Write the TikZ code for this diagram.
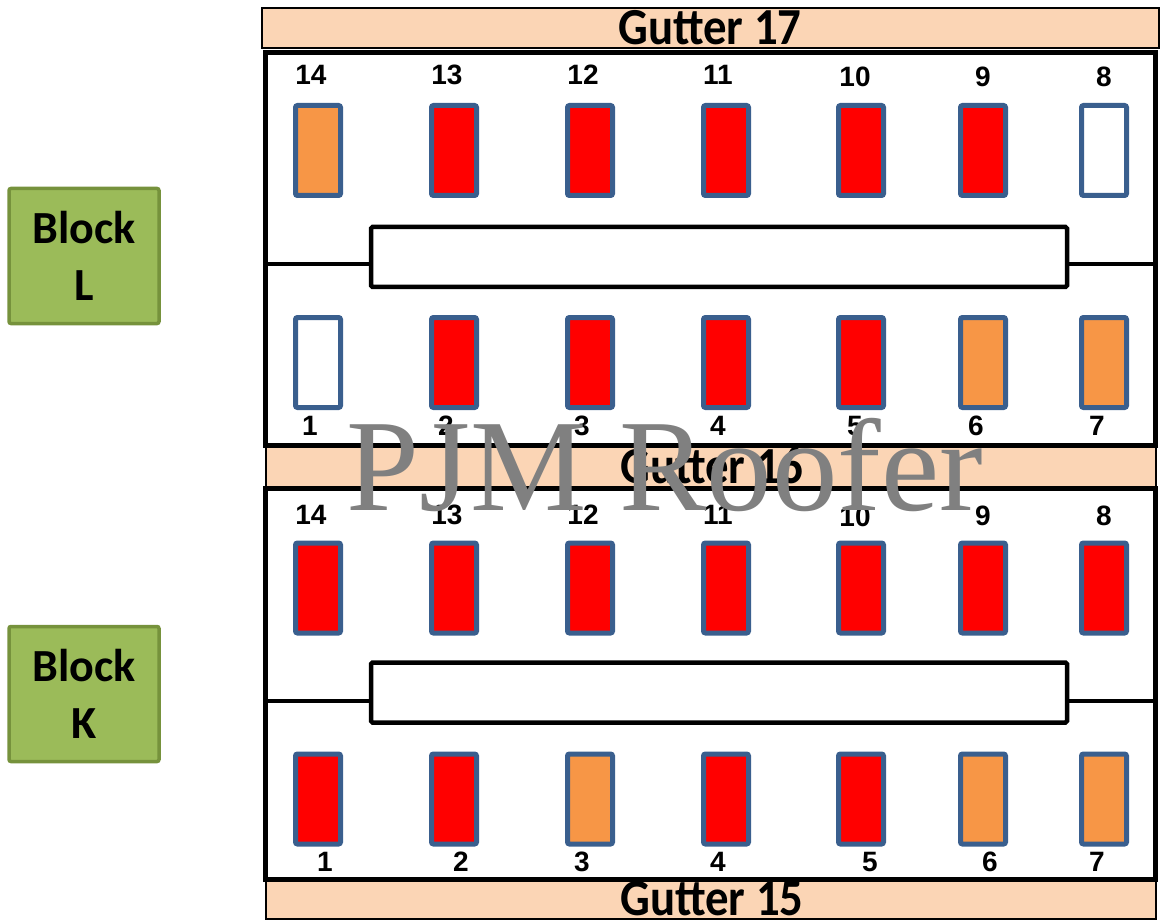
\documentclass[tikz,border=0pt]{standalone}
\usepackage{fontspec}
\setmainfont{Liberation Sans}
\newfontfamily\calib{Carlito}
\newfontfamily\tms{Liberation Serif}
\definecolor{peach}{HTML}{FBD5B5}
\definecolor{winred}{HTML}{FF0000}
\definecolor{winorange}{HTML}{F79646}
\definecolor{winedge}{HTML}{3A5F8E}
\definecolor{blockgreen}{HTML}{9BBB59}
\definecolor{blockedge}{HTML}{76923C}
\begin{document}
\begin{tikzpicture}[x=1pt,y=-1pt,
  gutterbox/.style={draw=black,line width=2pt,fill=peach,anchor=north west,inner sep=0pt},
  guttertext/.style={font=\calib\bfseries\fontsize{52}{52}\selectfont,inner sep=0pt},
  framebox/.style={draw=black,line width=5pt,anchor=north west,inner sep=0pt,outer sep=0pt},
  corridor/.style={draw=black,line width=4.5pt,fill=white,rounded corners=1.5pt,minimum width=696pt,minimum height=60pt,inner sep=0pt,outer sep=0pt},
  win/.style={draw=winedge,line width=5pt,rounded corners=2pt,minimum width=45pt,minimum height=90pt,inner sep=0pt},
  num/.style={font=\bfseries\fontsize{28}{28}\selectfont,inner sep=0pt},
  blockbox/.style={draw=blockedge,line width=3.5pt,fill=blockgreen,rounded corners=2pt,minimum width=150pt,minimum height=135pt,inner sep=0pt,align=center,font=\calib\bfseries\fontsize{46}{57}\selectfont}]
\useasboundingbox (0,0) rectangle (1160,920);
\newcommand\gtext[1]{\scalebox{0.9}[1]{#1}}
% gutters
\node[gutterbox,minimum width=897pt,minimum height=40pt] (g17) at (261,7) {};
\node[guttertext] (g17t) at (710,28) {\gtext{Gutter 17}};
\node[gutterbox,minimum width=890pt,minimum height=43pt] (g16) at (265,445) {};
\node[guttertext] (g16t) at (712,466) {\gtext{Gutter 16}};
\node[gutterbox,minimum width=890pt,minimum height=38pt] (g15) at (265,880) {};
\node[guttertext] (g15t) at (712,899) {\gtext{Gutter 15}};
% frames
\node[framebox,minimum width=890pt,minimum height=392.5pt] (fL) at (265.5,52.5) {};
\node[framebox,minimum width=890pt,minimum height=391pt] (fK) at (265.5,488) {};
% corridors
\node[corridor] (cL) at (719,257) {};
\node[corridor] (cK) at (719,692.5) {};
\coordinate (cLa) at (265.5,264); \coordinate (cLb) at (1155.5,264);
\coordinate (cKa) at (265.5,701); \coordinate (cKb) at (1155.5,701);
\draw[line width=4.5pt] (cLa) -- (cLa -| cL.west);
\draw[line width=4.5pt] (cLb) -- (cLb -| cL.east);
\draw[line width=4.5pt] (cKa) -- (cKa -| cK.west);
\draw[line width=4.5pt] (cKb) -- (cKb -| cK.east);
% windows
\def\xs{{318,454,590,726,861,983,1104}}
\foreach \c/\n [count=\i from 0] in {winorange/14,winred/13,winred/12,winred/11,winred/10,winred/9,white/8}{
  \pgfmathsetmacro\xx{\xs[\i]}
  \node[win,fill=\c] (LT\n) at (\xx,150.5) {};
}
\foreach \c/\n [count=\i from 0] in {white/1,winred/2,winred/3,winred/4,winred/5,winorange/6,winorange/7}{
  \pgfmathsetmacro\xx{\xs[\i]}
  \node[win,fill=\c] (LB\n) at (\xx,362.5) {};
}
\foreach \c/\n [count=\i from 0] in {winred/14,winred/13,winred/12,winred/11,winred/10,winred/9,winred/8}{
  \pgfmathsetmacro\xx{\xs[\i]}
  \node[win,fill=\c] (KT\n) at (\xx,588) {};
}
\foreach \c/\n [count=\i from 0] in {winred/1,winred/2,winorange/3,winred/4,winred/5,winorange/6,winorange/7}{
  \pgfmathsetmacro\xx{\xs[\i]}
  \node[win,fill=\c] (KB\n) at (\xx,799) {};
}
% labels
\foreach \n/\x/\y in {14/311/75,13/447/75,12/583/75,11/718/75,10/855/77,9/983/77,8/1104/77}
  \node[num] (lLT\n) at (\x,\y) {\n};
\foreach \n/\x/\y in {1/310/426,2/446/426,3/582/426,4/718/426,5/855/426,6/976/426,7/1097/426}
  \node[num] (lLB\n) at (\x,\y) {\n};
\foreach \n/\x/\y in {14/311/515,13/447/515,12/583/515,11/718/515,10/855/517,9/983/516,8/1104/516}
  \node[num] (lKT\n) at (\x,\y) {\n};
\foreach \n/\x/\y in {1/325/862,2/461/862,3/582/862,4/718/862,5/870/862,6/990/862,7/1097/862}
  \node[num] (lKB\n) at (\x,\y) {\n};
% blocks
\node[blockbox] (bL) at (84,256) {Block\\L};
\node[blockbox] (bK) at (84,694) {Block\\K};
% watermark
\node[font=\tms\fontsize{131}{131}\selectfont,text=gray,inner sep=0pt,anchor=base] (wm) at (665,510) {PJM Roofer};
\end{tikzpicture}
\end{document}
